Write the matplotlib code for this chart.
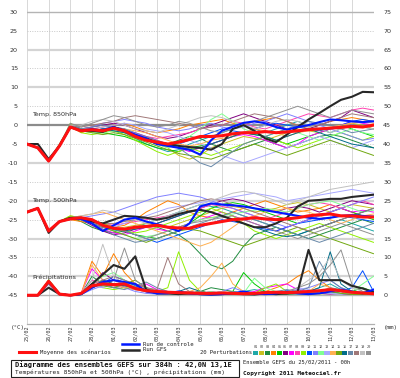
import numpy as np
import matplotlib.pyplot as plt
from matplotlib.patches import Rectangle
from matplotlib.lines import Line2D

W, H = 400, 378

# 12h steps over the 384h run
hours = list(range(0, 385, 12))
dates = ['25/02', '26/02', '27/02', '28/02', '01/03', '02/03', '03/03', '04/03', '05/03',
         '06/03', '07/03', '08/03', '09/03', '10/03', '11/03', '12/03', '13/03']

# ---- Temp 850hPa (°C)
t850_mean = [-5, -6, -9.5, -5.5, -0.5, -1.5, -1.2, -1.5, -0.8, -1.5, -3, -4, -4.5, -5, -4.5, -3.8, -3,
             -3, -2.8, -2.3, -2, -2, -1.7, -2, -1.8, -1.5, -1.2, -1, -0.8, -0.6, -0.3, -0.5, 0]
t850_ctrl = [-5, -6, -9.5, -5.5, -0.5, -1.5, -1, -1.5, -0.5, -1.5, -2.5, -3.5, -5, -5.5, -6, -6.5, -7.8,
             -4, -1.5, -0.4, 0.6, 1, 0.5, -0.5, -1.2, -0.5, 0, 0.8, 1.5, 1.3, 1, 0.8, 1]
t850_gfs = [-5, -5, -9, -5.5, -0.5, -1.5, -1.5, -1.8, -0.5, -1.5, -3, -3.5, -4.5, -5, -5.5, -5.8, -6,
            -6.5, -5, -1, 0, -1.5, -3.5, -4.5, -2.5, -0.5, 1.5, 3.2, 5, 6.7, 7.5, 8.8, 8.7]
t850_pert = [
    [-5, -6, -9.5, -5.5, 0, -1.5, -1, -1.5, -1, -2, -3.5, -5, -6, -7, -6.5, -5, -4, -3, -2, -1, 0, -1, -2, -1, 0, 1, 0, -1, -2, -1, 0, -0.5, -1],
    [-5, -6, -9.5, -5.5, -0.5, -1.5, -1.5, -2, -1, -1.5, -2.5, -3.5, -5, -6, -8, -9, -8, -6, -5, -4, -3, -3.5, -4, -3, -2, -1, -1.5, -2, -1, 0, 0.5, 0, -1],
    [-5, -6, -9.5, -5.5, 0, -1, -1.5, -1, -0.5, -1.5, -3, -4, -4.5, -5, -4, -3, -3.5, -5, -6, -7, -6, -5, -4, -5, -6, -5, -4, -3, -2.5, -3, -4, -5, -6],
    [-5, -6, -9.5, -5.5, -0.5, -2, -1, -0.5, 0, 0.5, -0.5, -1.5, -2, -1.5, -1, 0, 0.5, 1, 1.5, 0.5, 0, 1, 1.5, 2, 1, 0, -1, 0, 1, 1.5, 2, 1.5, 1],
    [-5, -6, -9.5, -5, 0, -1, -1.5, -2, -2.5, -3, -4, -5, -6, -6.5, -7, -6, -5.5, -5, -4, -3, -2, -2.5, -3, -4, -5, -4, -3, -2, -1, 0, -1, -2, -3],
    [-5, -6, -9.5, -5.5, 0, -1, -0.5, 0, 0.5, 0, -1, -2, -3, -3.5, -3, -2, -1, 0, 1, 2, 3, 2, 1, 0, -1, -2, -1, 0, 1, 2, 4, 3, 2],
    [-5, -6, -9.5, -5.5, 0, -1.5, -1, -1.5, -1, -1.5, -2, -3, -4, -5, -6, -7, -6, -5, -4, -3, -2.5, -3, -4, -5, -6, -5, -3, -2, -1, 0, 1, 0.5, 0],
    [-5, -6, -9.5, -5.5, -0.5, -1.5, -1.5, -1, -1.5, -2, -2.5, -3, -3.5, -3, -2.5, -2, -1, -0.5, 0, 1, 0.5, -0.5, -1, 0, 1, 2, 3, 2.5, 2, 3, 4, 4.5, 4],
    [-5, -6, -9.5, -5.5, 0.5, -2, -2.5, -2, -1.5, -2.5, -4, -5.5, -7, -8, -7, -6, -7, -8, -7, -6, -5, -4, -3, -4, -5, -6, -5, -4, -3, -2, -3, -4, -3],
    [-5, -6, -9.5, -5.5, 0, -1, -1.5, -1, -0.5, -1, -2.5, -4, -5, -5.5, -5, -4, -3, -2, -1, -1.5, -2, -1, 0, 0.5, 0, -0.5, -1, -1.5, -1, 0, 1, 1.5, 1],
    [-5, -6, -9.5, -5.5, 0, -1, -0.5, 0.5, 1, 1.5, 1, 0.5, -0.5, -1, -1.5, -1, 0, 0.5, -0.5, -1, -0.5, 0.5, 1, 2, 3, 2, 1, 0, -1, -2, -3, -4, -3.5],
    [-5, -6, -9.5, -5.5, 0, -1.5, -2, -2, -1.5, -2, -3, -4, -5, -6, -5, -3, -1, 1.5, 3, 1, -1, -2, -3, -2, -1, -2, -3, -4, -3, -2, -1, -2, -2.5],
    [-5, -6, -9.5, -5.5, 0, -1, -1, -0.5, 0, 0.5, 0, -1, -1.5, -2, -3, -4, -5, -6, -8, -9, -10, -9, -8, -7, -6, -5, -4, -3, -4, -5, -6, -5, -4],
    [-5, -6, -9.5, -5.5, 0, -1, -1, -1.5, -1, -1, -1.5, -2, -3, -4, -5, -5.5, -5, -4, -3.5, -3, -2, -1, -1.5, -2, -3, -2, -1.5, -1, -0.5, 0, 0.5, 1, 0.5],
    [-5, -6, -9.5, -5.5, 0, -1.5, -2, -2.5, -2, -2.5, -3.5, -4.5, -5.5, -6.5, -7.5, -8, -8.5, -9, -8, -7, -6, -5, -6, -7, -8, -7, -6, -5, -4, -5, -6, -7, -8],
    [-5, -6, -9.5, -5.5, 0, -1, -1.5, -1, -1.5, -2, -3, -4, -5, -5.5, -6, -6.5, -6, -5, -4, -3, -2, -2.5, -3, -4, -3, -2, -1, -2, -3, -4, -5, -5.5, -6],
    [-5, -6, -9.5, -5.5, 0, -1, -0.5, 0, -0.5, -1, -2, -3, -4, -5, -6, -8, -10, -11, -9, -7, -5, -4, -3, -2, -1, 0, 1, 0.5, 0, -1, -2, -1.5, -1],
    [-5, -6, -9.5, -5.5, 0, -0.5, 0, 0.5, 1, 2, 2.5, 2, 1.5, 1, 0.5, 0, -1, -0.5, 0, 1, 2, 3, 2.5, 2, 1, 0, -0.5, 0, 1, 2, 3, 2.5, 2],
    [-5, -6, -9.5, -5.5, 0, 0, 1, 1.5, 1, 0, -1, -1.5, -2, -1, 0, 1, 2, 2.5, 2, 1, 0, -1, 0, 1, 1.5, 1, 0, -1, -2, -1, 0, -0.5, -1],
    [-5, -6, -9.5, -5.5, 0.5, -0.5, 0.5, 1.5, 2.5, 2, 1, 0, -0.5, 0, 1, 0.5, -0.5, -1.5, -2, -1, 0, 1, 2, 3, 4, 5, 4, 3, 2, 3, 4, 3.5, 3],
]

# ---- Temp 500hPa (°C)
t500_mean = [-23, -22, -28, -25.5, -24.8, -24.5, -25, -26.5, -27.3, -27.5, -27, -26.8, -26.5, -27, -27.2, -27.3, -26.5,
             -26, -25.5, -25, -24.8, -24.5, -24.8, -25, -24.8, -24.5, -24, -23.7, -23.5, -24, -24, -24.3, -24.3]
t500_ctrl = [-23, -22, -28, -25.5, -24.8, -24.8, -26, -28, -26.5, -25, -24.5, -25.5, -26.2, -27, -28, -26, -21.5,
             -20.7, -21, -21.2, -21.5, -22, -22.5, -23, -23.5, -24, -24.5, -24.8, -24.5, -24, -23.8, -24, -24.2]
t500_gfs = [-23, -22, -28.5, -25.5, -24.5, -24.5, -25.5, -26, -25, -24, -24.2, -24.5, -25, -24.5, -23.5, -22.8, -22.4,
            -23, -24, -25, -26, -27, -27, -26, -24.5, -21.5, -20, -19.8, -19.5, -19.5, -19, -18.7, -18.4]
t500_pert = [
    [-23, -22, -28, -25.5, -24.5, -25, -26, -27, -28, -27.5, -27, -26, -25, -24, -23, -22, -21, -21.5, -22, -23, -24, -25, -26, -27, -28, -29, -28, -27, -26, -25, -26, -27, -28],
    [-23, -22, -28, -25.5, -24, -24.5, -25.5, -27, -27.5, -27, -26.5, -26, -26.5, -27, -26, -25, -24, -23, -22, -21.5, -22, -23, -22.5, -22, -21, -20.5, -21, -22, -23, -22, -21, -21.5, -22],
    [-23, -22, -28, -25.5, -24.5, -25.5, -27, -28, -28.5, -28, -27, -26.5, -27, -28, -29, -31, -34, -37, -38, -36, -32, -29, -28, -27, -28, -29, -30, -29, -28, -27, -26, -25, -26],
    [-23, -22, -28, -25.5, -25, -25.5, -26, -26.5, -27, -26.5, -25, -23, -21.5, -20, -21, -23, -24, -24.5, -24, -23, -22, -21, -20, -21, -22, -23, -22.5, -22, -21, -22, -23, -24, -24.5],
    [-23, -22, -28, -25.5, -24.5, -25, -25.5, -26, -27, -28, -29, -29.5, -30, -29, -28, -26, -24, -22, -21, -20.5, -21, -22, -23, -24, -25, -26, -25, -24, -23, -22, -23, -24, -25],
    [-23, -22, -28, -25.5, -24.5, -25, -26.5, -28, -29, -28.5, -27.5, -27, -26, -25, -24, -23, -22, -21, -20, -19.5, -20, -21, -22, -23, -22, -21.5, -22, -23, -22, -21, -20, -20.5, -21],
    [-23, -22, -28, -25.5, -24.5, -25, -26, -27.5, -28.5, -29, -28, -27, -27.5, -28, -27, -26, -25, -24, -23, -24, -25, -26, -27, -28, -27, -26, -25, -24, -23, -22, -23, -22.5, -23],
    [-23, -22, -28, -25.5, -24.5, -25, -25.5, -26, -26.5, -26, -25.5, -25, -24.5, -24, -23.5, -23, -22, -21, -21.5, -22, -23, -24, -25, -24, -23, -22, -21, -20.5, -21, -22, -21, -20, -21],
    [-23, -22, -28, -25.5, -24, -24.5, -25, -26, -27, -28, -28.5, -28, -27, -26, -25, -24, -23, -22, -23, -24, -26, -28, -29, -30, -29, -28, -27, -26, -27, -28, -29, -30, -31],
    [-23, -22, -28, -25.5, -24.5, -25, -25.5, -26.5, -27.5, -28, -29, -30, -31, -30, -29, -28, -27, -26, -25, -25.5, -26, -27, -27.5, -28, -27, -26, -25.5, -25, -24.5, -24, -24.5, -25, -25.5],
    [-23, -22, -28, -25.5, -24.5, -24.5, -24, -23.5, -23, -22, -21, -20, -19, -18.5, -18, -18.5, -19, -20, -21, -22, -23, -24, -25, -26, -27, -26, -25, -24, -23, -22, -21, -20, -19],
    [-23, -22, -28, -25.5, -24.5, -25, -26, -27, -28, -29, -30, -29.5, -29, -28, -27, -26, -25, -24.5, -24, -23.5, -23, -22.5, -22, -22.5, -23, -22, -21, -20.5, -20, -21, -22, -23, -22.5],
    [-23, -22, -28, -25.5, -24.5, -25, -26, -26.5, -27, -26, -25, -24, -23, -22, -21.5, -21, -20.5, -20, -19.5, -19, -18.5, -18, -18.5, -19, -20, -19.5, -19, -18.5, -18, -17.5, -17, -17.5, -18],
    [-23, -22, -28, -25.5, -24.5, -24, -23.5, -23, -24, -25, -26, -27, -28, -29, -30, -31, -32, -31, -29, -27, -25, -24, -23, -22.5, -22, -22.5, -23, -24, -25, -26, -25, -24, -23.5],
    [-23, -22, -28, -25.5, -24.5, -25, -26, -27, -28, -29, -30, -31, -30, -29, -28, -27.5, -28, -29, -30, -31, -32, -31, -30, -29, -28, -27, -28, -29, -30, -31, -32, -33, -34],
    [-23, -22, -28, -25.5, -24.5, -25, -26, -27, -27.5, -28, -27.5, -27, -26, -25, -24, -23, -22.5, -23, -24, -25, -26, -27, -28, -29, -29.5, -29, -28, -27, -26, -25, -24, -23, -22],
    [-23, -22, -28, -25.5, -24.5, -25, -26, -27.5, -29, -30, -31, -30.5, -30, -29, -28, -27, -26, -25, -24, -23, -24, -25, -26, -27, -28, -29, -30, -31, -30, -29, -28, -27, -26],
    [-23, -22, -28, -25.5, -24.5, -25, -25.5, -26, -26, -25.5, -25, -24.5, -24, -23, -22, -21, -20, -19.5, -20, -21, -22, -23, -24, -25, -26, -27, -28, -27, -26, -25, -24, -23, -22],
    [-23, -22, -28, -25.5, -24.5, -24, -23.5, -22.5, -23, -24, -25, -26, -25, -24, -23, -22, -21, -20, -19, -18, -17.5, -18, -19, -20, -21, -20, -19, -18, -17, -16.5, -16, -15.5, -15],
    [-23, -22, -28, -25.5, -24.5, -25, -26, -27, -27.5, -28, -29, -30, -29, -28, -27, -26, -25.5, -25, -24.5, -24, -25, -26, -27, -28, -29, -30, -29, -28, -27, -26, -27, -28, -29],
]

# ---- Precipitations (mm)
rr_mean = [0, 0, 3.7, 0.3, 0, 0.5, 2.5, 3, 2.8, 3, 1.8, 1.2, 1, 0.8, 0.7, 0.6, 0.5,
           0.5, 0.6, 0.5, 0.4, 0.5, 0.7, 0.8, 0.7, 0.8, 1, 1.2, 1.5, 1.2, 0.8, 0.6, 0.4]
rr_ctrl = [0, 0, 3.5, 0.3, 0, 0.3, 2, 3.5, 4, 3.5, 3, 1, 0.5, 0.5, 1, 0.5, 0.3,
           0.2, 0.3, 0.5, 1, 0.5, 0.3, 0.5, 1, 0.5, 0.3, 0.5, 1, 1.5, 1, 0.5, 1.5]
rr_gfs = [0, 0, 2, 0.3, 0, 0.3, 3, 5.5, 8, 7, 10.3, 1.5, 0.5, 0.5, 0.3, 0.5, 0.3,
          0.2, 0.3, 0.5, 0.3, 0.2, 0.5, 0.3, 0.5, 1, 12, 4, 4, 4, 2.5, 1.8, 0.8]
rr_pert = [
    [0, 0, 3.5, 0.5, 0, 0.2, 2, 4, 3, 2, 1.5, 1, 0.5, 0.3, 0.5, 1, 0.5, 0.3, 0.2, 0.5, 1, 1.5, 1, 0.5, 0.3, 0.5, 1, 2, 3, 1.5, 0.5, 0.3, 0.2],
    [0, 0, 3, 0.3, 0, 0.5, 3, 2.5, 4, 3, 2, 1, 0.5, 0.5, 1, 0.5, 0.3, 0.2, 0.5, 0.3, 0.2, 0.5, 0.3, 0.2, 0.5, 1, 0.5, 0.3, 0.5, 1, 0.5, 0.3, 0.2],
    [0, 0, 4, 0.5, 0, 0.3, 5, 3, 2, 2.5, 3, 2, 1, 0.5, 0.3, 0.5, 1, 2, 1.5, 1, 0.5, 0.3, 0.5, 1, 0.5, 0.3, 0.5, 1, 1.5, 1, 0.5, 1, 0.5],
    [0, 0, 3.5, 0.5, 0, 0.5, 9, 5, 11, 6, 3, 2, 1, 0.5, 0.3, 0.2, 0.3, 0.5, 1, 0.5, 0.3, 0.5, 1, 2, 3, 5, 6.5, 4, 2, 1, 0.5, 0.3, 0.2],
    [0, 0, 4, 0.5, 0, 0.2, 2, 3, 4, 3.5, 2, 1, 0.5, 0.3, 0.2, 0.5, 1, 0.5, 0.3, 1, 6, 3, 1, 0.5, 0.3, 0.5, 1, 0.5, 0.3, 0.5, 1, 2, 1],
    [0, 0, 3.5, 0.3, 0, 0.3, 2.5, 6, 4, 3, 2, 1.5, 1, 0.5, 0.3, 0.5, 0.3, 0.2, 0.3, 0.5, 0.3, 0.2, 0.5, 1, 0.5, 0.3, 0.5, 1, 0.5, 0.3, 0.2, 0.3, 0.2],
    [0, 0, 3, 0.5, 0, 0.5, 7, 4, 3, 2.5, 2, 3, 1.5, 1, 0.5, 0.3, 0.5, 1, 0.5, 0.3, 0.5, 1, 2, 2.5, 3, 1.5, 1, 0.5, 0.3, 0.5, 1, 0.5, 0.3],
    [0, 0, 3.5, 0.5, 0, 0.3, 4, 3, 2.5, 2, 1.5, 1, 0.5, 0.3, 0.5, 1, 0.5, 0.3, 0.2, 0.3, 0.5, 0.3, 0.5, 1, 0.5, 0.3, 0.2, 0.5, 1, 1.5, 1, 0.5, 0.3],
    [0, 0, 4, 0.5, 0, 0.5, 3, 2, 1.5, 2, 2.5, 1.5, 1, 2, 11.5, 4, 1, 0.5, 0.3, 0.5, 1, 0.5, 2, 3, 1, 0.5, 0.3, 0.5, 1, 0.5, 0.3, 0.5, 0.3],
    [0, 0, 3, 0.3, 0, 0.3, 2, 3, 5, 4, 2.5, 1.5, 1, 0.5, 0.3, 0.5, 0.3, 0.2, 0.5, 0.3, 0.2, 0.3, 0.5, 1, 0.5, 0.3, 0.5, 1, 0.5, 1, 2, 6.5, 1],
    [0, 0, 3.5, 0.5, 0, 0.2, 1.5, 2.5, 3, 2, 1, 0.5, 0.3, 0.5, 1, 0.5, 0.3, 0.5, 1, 2, 1, 0.5, 0.3, 0.5, 1, 1.5, 2, 3, 4, 2, 1, 0.5, 0.3],
    [0, 0, 4, 0.5, 0, 0.3, 3, 5, 6, 4, 2, 1, 0.5, 0.3, 0.5, 0.3, 0.5, 1, 0.5, 0.3, 0.5, 4.5, 2, 1, 0.5, 0.3, 0.5, 1, 0.5, 0.3, 1, 3, 5],
    [0, 0, 3.5, 0.3, 0, 0.5, 2.5, 2, 3, 3.5, 2, 1, 0.5, 0.3, 0.2, 0.3, 0.5, 0.3, 0.2, 0.5, 1, 0.5, 0.3, 0.5, 1, 2, 1.5, 1, 0.5, 0.3, 0.5, 1, 0.5],
    [0, 0, 3, 0.5, 0, 0.3, 8, 4, 3, 2, 1.5, 1, 0.5, 0.3, 0.5, 1, 2, 5, 8.5, 3, 1, 0.5, 0.3, 0.2, 0.3, 0.5, 1, 3, 2, 1, 0.5, 0.3, 0.2],
    [0, 0, 4, 0.5, 0, 0.2, 3, 2.5, 2, 3, 4, 2, 1, 0.5, 0.3, 0.5, 1, 0.5, 0.3, 0.2, 0.3, 0.5, 1, 0.5, 0.3, 0.5, 0.3, 0.5, 1, 0.5, 0.3, 0.2, 0.3],
    [0, 0, 3.5, 0.5, 0, 0.3, 2, 4, 3, 2.5, 2, 1.5, 1, 0.5, 1, 2, 1, 0.5, 0.3, 0.5, 0.3, 0.5, 1, 0.5, 0.3, 0.5, 1, 2, 11.5, 3, 1, 0.5, 0.3],
    [0, 0, 3, 0.3, 0, 0.5, 2.5, 3, 2, 1.5, 2.5, 3.5, 2, 1, 0.5, 0.3, 0.5, 0.3, 0.5, 1, 0.5, 0.3, 0.5, 1, 1.5, 1, 2, 9, 4, 2, 1, 0.5, 0.3],
    [0, 0, 3.5, 0.5, 0, 0.3, 3, 4, 5, 4, 3, 2, 1.5, 10, 3, 1, 0.5, 0.3, 0.5, 0.3, 0.2, 0.3, 0.5, 0.3, 0.5, 1, 0.5, 1, 2, 1.5, 1, 0.5, 0.3],
    [0, 0, 4, 0.5, 0, 0.5, 4, 13.5, 5, 3, 2, 1.5, 1, 0.5, 0.3, 0.5, 0.3, 0.5, 1, 0.5, 0.3, 0.2, 0.3, 0.5, 1, 2, 4, 6, 10, 4, 2, 1, 0.5],
    [0, 0, 3.5, 0.5, 0, 0.3, 2, 3, 4, 12.5, 4, 2, 1, 0.5, 0.3, 0.5, 1, 0.5, 0.3, 0.5, 1, 0.5, 0.3, 0.5, 1, 2, 3, 5, 8, 12, 3, 1, 0.5],
]

pert_colors = ['#20a8a8', '#c8c020', '#208c40', '#ff8000', '#00c800', '#800080', '#ff00ff', '#ff40b0',
               '#90f000', '#0050ff', '#8080ff', '#80ff90', '#a8a8ff', '#ffb050', '#70a810', '#006c88',
               '#6888a8', '#a07878', '#c0c0c0', '#909090']

fig = plt.figure(figsize=(W / 100, H / 100), dpi=100)
ax = fig.add_axes([27 / W, 1 - 324 / H, 346.5 / W, 324 / H])
ax2 = ax.twinx()

x = np.array(hours) / 24.0
ylo, yhi = -52.6, 33.1
ax.set_xlim(0, 16)
ax.set_ylim(ylo, yhi)
ax2.set_ylim(ylo + 45, yhi + 45)

# grid
for d in range(17):
    ax.axvline(d, color='#d8d8d8', lw=0.7, zorder=0)
for v in range(-45, 35, 5):
    if v == 0:
        ax.axhline(v, color='#8c8c8c', lw=1.6, zorder=0)
    elif v in (30, -45):
        ax.axhline(v, color='#b4b4b4', lw=1.0, zorder=0)
    elif v % 10 == 0:
        ax.axhline(v, color='#d4d4d4', lw=1.6, zorder=0)
    else:
        ax.axhline(v, color='#c8c8c8', lw=0.7, ls=(0, (1, 1.5)), zorder=0)

for i in range(20):
    ax.plot(x, t850_pert[i], color=pert_colors[i], lw=0.7, zorder=2)
    ax.plot(x, t500_pert[i], color=pert_colors[i], lw=0.7, zorder=2)
    ax2.plot(x, rr_pert[i], color=pert_colors[i], lw=0.7, zorder=2)

ax.plot(x, t850_gfs, color='#282828', lw=1.5, zorder=3)
ax.plot(x, t500_gfs, color='#282828', lw=1.5, zorder=3)
ax2.plot(x, rr_gfs, color='#282828', lw=1.5, zorder=3)
ax.plot(x, t850_ctrl, color='#0018ff', lw=1.5, zorder=4)
ax.plot(x, t500_ctrl, color='#0018ff', lw=1.5, zorder=4)
ax2.plot(x, rr_ctrl, color='#0018ff', lw=1.5, zorder=4)
ax.plot(x, t850_mean, color='#ff1010', lw=2.2, zorder=5)
ax.plot(x, t500_mean, color='#ff1010', lw=2.2, zorder=5)
ax2.plot(x, rr_mean, color='#ff1010', lw=2.2, zorder=5)

lab = dict(fontsize=4.6, family='DejaVu Sans', color='#303030')
ax.text(0.25, 2.3, 'Temp. 850hPa', **lab, zorder=6)
ax.text(0.25, -20.4, 'Temp. 500hPa', **lab, zorder=6)
ax.text(0.25, -40.6, 'Précipitations', **lab, zorder=6)

ax.set_xticks(range(17))
ax.set_xticklabels(dates, rotation=90, fontsize=3.7, family='DejaVu Sans Mono', color='#303030')
ax.set_yticks(range(-45, 35, 5))
ax.set_yticklabels([str(v) for v in range(-45, 35, 5)], fontsize=4.6, color='#303030')
ax2.set_yticks(range(0, 80, 5))
ax2.set_yticklabels([str(v) for v in range(0, 80, 5)], fontsize=4.6, color='#303030')
ax.tick_params(axis='x', length=0, pad=1)
ax.tick_params(axis='y', length=0, pad=6.5)
ax2.tick_params(axis='y', length=0, pad=7)
for a in (ax, ax2):
    for s in ('left', 'right', 'top'):
        a.spines[s].set_visible(False)
    a.spines['bottom'].set_color('#b0b0b0')
    a.spines['bottom'].set_linewidth(0.8)


def fx(px):
    return px / W


def fy(py):
    return 1 - py / H


mono = 'DejaVu Sans Mono'
fig.text(fx(11), fy(328), '(°C)', fontsize=4.2, family=mono, va='center', color='#303030')
fig.text(fx(384), fy(328), '(mm)', fontsize=4.2, family=mono, va='center', color='#303030')

# legend
fig.add_artist(Line2D([fx(19), fx(36)], [fy(352), fy(352)], color='#ff1010', lw=2.2))
fig.text(fx(40), fy(352), 'Moyenne des scénarios', fontsize=4.1, family=mono, va='center', color='#202020')
fig.add_artist(Line2D([fx(122), fx(139)], [fy(344), fy(344)], color='#0018ff', lw=1.8))
fig.text(fx(143), fy(344), 'Run de controle', fontsize=4.1, family=mono, va='center', color='#202020')
fig.add_artist(Line2D([fx(122), fx(139)], [fy(349.5), fy(349.5)], color='#282828', lw=1.8))
fig.text(fx(143), fy(349.5), 'Run GFS', fontsize=4.1, family=mono, va='center', color='#202020')
fig.text(fx(200), fy(352), '20 Perturbations', fontsize=4.0, family=mono, va='center', color='#202020')
for i in range(20):
    x0 = 253 + i * 5.95
    fig.add_artist(Rectangle((fx(x0), fy(354.5)), 5.2 / W, 4 / H, color=pert_colors[i], lw=0))
    fig.text(fx(x0 + 2.6), fy(347.5), '%02d' % (i + 1), fontsize=2.6, family=mono,
             ha='center', va='center', color='#404040')

# caption box
fig.add_artist(Rectangle((fx(11), fy(377)), 228 / W, 17 / H, fill=False, ec='#202020', lw=0.8))
fig.text(fx(15), fy(364.5), 'Diagramme des ensembles GEFS sur 384h : 42,0N 13,1E', fontsize=5.0,
         family=mono, weight='bold', va='center', color='#101010')
fig.text(fx(15), fy(372.5), 'Températures 850hPa et 500hPa (°C) , précipitations (mm)', fontsize=4.4,
         family=mono, va='center', color='#202020')
fig.text(fx(243), fy(362), 'Ensemble GEFS du 25/02/2011 - 00h', fontsize=4.0, family=mono,
         va='center', color='#202020')
fig.text(fx(243), fy(373), 'Copyright 2011 Meteociel.fr', fontsize=4.3, family=mono, weight='bold',
         va='center', color='#101010')

fig.savefig('out.png', dpi=100)
